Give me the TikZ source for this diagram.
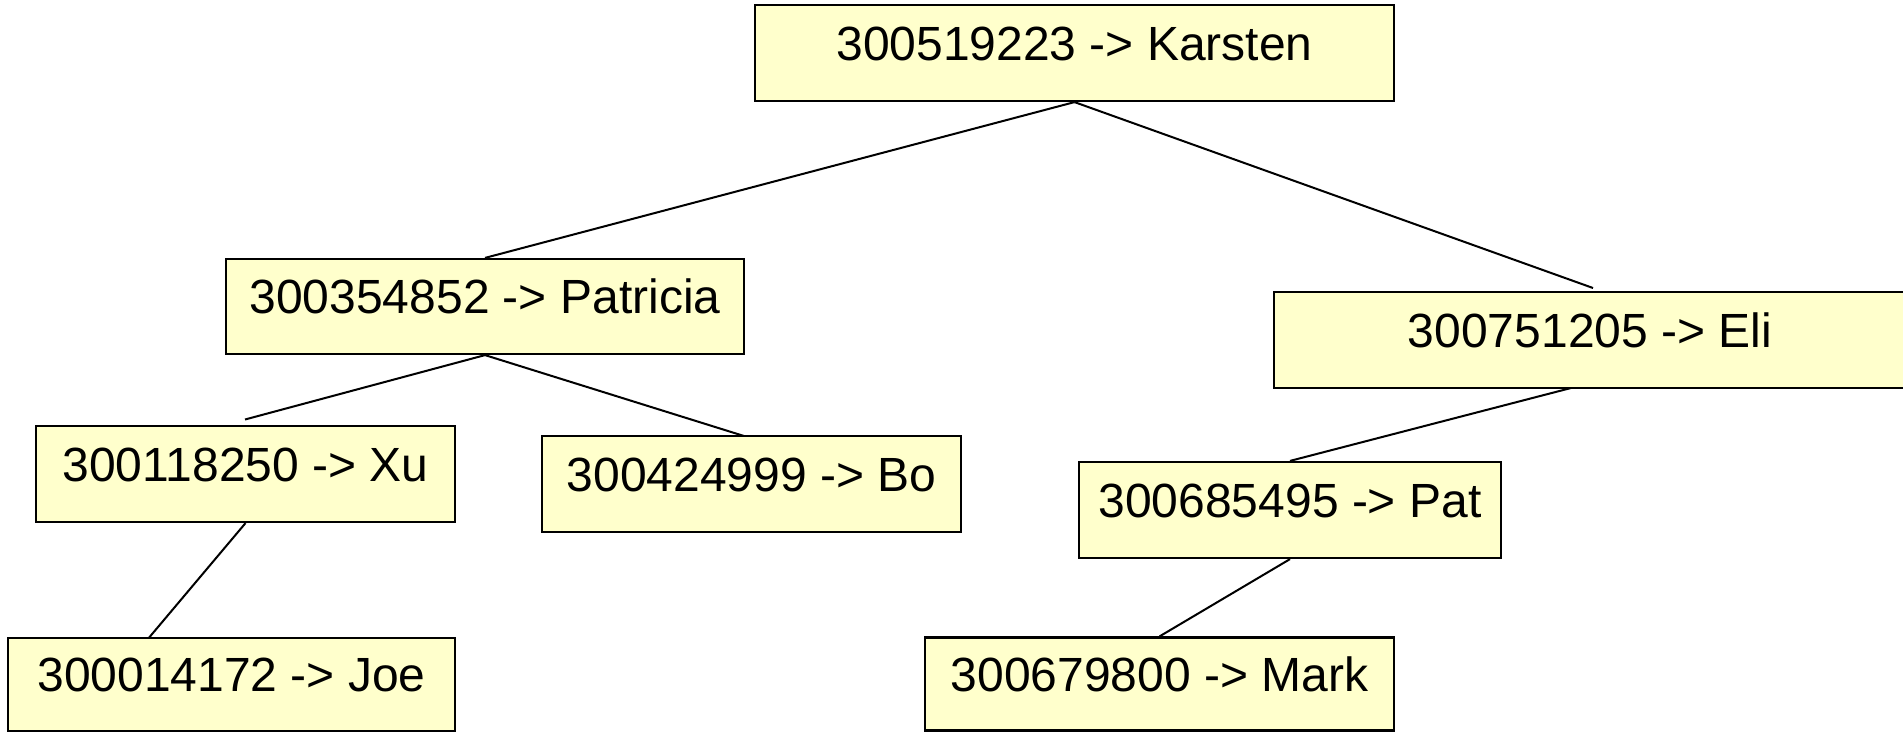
\documentclass[tikz,border=0pt]{standalone}
\usepackage{fontspec}
\setmainfont{Liberation Sans}
\usetikzlibrary{calc}
\definecolor{boxyellow}{HTML}{FFFFCC}
\begin{document}
\begin{tikzpicture}[x=1pt,y=-1pt,
  keybox/.style={draw=black, line width=2.2pt, fill=boxyellow, inner sep=0pt,
    text height=35pt, text depth=21pt, font=\fontsize{48}{58}\selectfont},
  link/.style={draw=black, line width=2pt}]
\useasboundingbox (0,0) rectangle (1903,732);

% search tree nodes
\node[keybox, minimum width=639pt, minimum height=96pt] (karsten)  at (1074.5,53)  {300519223 -> Karsten};
\node[keybox, minimum width=518pt, minimum height=95pt] (patricia) at (485,306.5)  {300354852 -> Patricia};
\node[keybox, minimum width=632pt, minimum height=96pt] (eli)      at (1590,340)   {300751205 -> Eli};
\node[keybox, minimum width=419pt, minimum height=96pt] (xu)       at (245.5,474)  {300118250 -> Xu};
\node[keybox, minimum width=419pt, minimum height=96pt] (bo)       at (751.5,484)  {300424999 -> Bo};
\node[keybox, minimum width=422pt, minimum height=96pt] (pat)      at (1290,510)   {300685495 -> Pat};
\node[keybox, minimum width=447pt, minimum height=93pt] (joe)      at (231.5,684.2){300014172 -> Joe};
\node[keybox, minimum width=469pt, minimum height=93pt] (mark)     at (1159.5,684) {300679800 -> Mark};

% free ends of the links that stop off the box centres
\coordinate (eliTop)   at (1593,288);
\coordinate (eliBot)   at (1571,388);
\coordinate (xuTop)    at (245,419.5);
\coordinate (boTop)    at (744,436);
\coordinate (joeTop)   at (149,637.7);

% links
\draw[link] (karsten.south) -- (patricia.north);
\draw[link] (karsten.south) -- (eliTop);
\draw[link] (patricia.south) -- (xuTop);
\draw[link] (patricia.south) -- (boTop);
\draw[link] (xu.south) -- (joeTop);
\draw[link] (eliBot) -- (pat.north);
\draw[link] (pat.south) -- (mark.north);
\end{tikzpicture}
\end{document}
